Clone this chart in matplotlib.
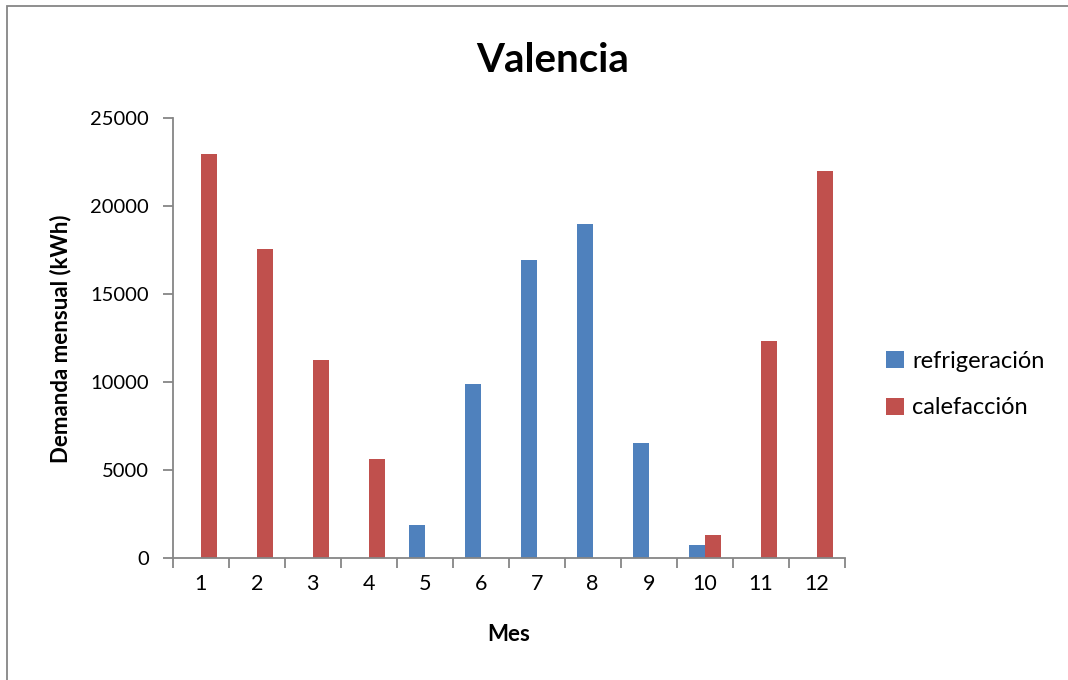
import matplotlib.pyplot as plt
import matplotlib.patches as mpatches
import numpy as np

plt.rcParams['font.family'] = ['Lato', 'DejaVu Sans']

meses = [1, 2, 3, 4, 5, 6, 7, 8, 9, 10, 11, 12]
refrigeracion = [0, 0, 0, 0, 1910, 9920, 16970, 18990, 6550, 760, 0, 0]
calefaccion = [22950, 17560, 11250, 5640, 0, 0, 0, 0, 0, 1340, 12350, 21990]

azul = '#4F81BD'
rojo = '#C0504D'
gris = '#868686'

fig = plt.figure(figsize=(10.68, 6.8), dpi=100)
ax = fig.add_axes([0.1617, 0.179, 0.6292, 0.647])

# chart border (only top and left edges fall inside the image)
fig.patches.append(mpatches.Rectangle((7 / 1068, -0.1), 1.2, 1 - 6 / 680 + 0.1,
                                      transform=fig.transFigure, fill=False,
                                      edgecolor=gris, linewidth=1.3))

x = np.array(meses)
w = 16 / 56
ax.bar(x - w / 2, refrigeracion, width=w, color=azul, label='refrigeración')
ax.bar(x + w / 2, calefaccion, width=w, color=rojo, label='calefacción')

ax.set_xlim(0.5, 12.5)
ax.set_ylim(0, 25000)
ax.set_yticks(np.arange(0, 25001, 5000))

# ticks on category boundaries, labels centred
ax.set_xticks(np.arange(0.5, 12.6, 1))
ax.set_xticklabels([])
ax.set_xticks(x, minor=True)
ax.set_xticklabels([str(m) for m in meses], minor=True)
ax.tick_params(axis='x', which='minor', length=0, pad=11, labelsize=15.5)
ax.tick_params(axis='x', which='major', length=7, width=1.3, color=gris)
ax.tick_params(axis='y', length=7, width=1.3, color=gris, labelsize=14.5, pad=10)

for s in ['top', 'right']:
    ax.spines[s].set_visible(False)
for s in ['left', 'bottom']:
    ax.spines[s].set_color(gris)
    ax.spines[s].set_linewidth(1.3)

fig.text(553 / 1068, 1 - 61 / 680, 'Valencia', fontsize=29, fontweight='bold',
         ha='center', va='center')
ax.set_xlabel('Mes', fontsize=16, fontweight='bold', labelpad=22)
ax.set_ylabel('Demanda mensual (kWh)', fontsize=16, fontweight='bold', labelpad=14)

ax.legend(loc='center left', bbox_to_anchor=(1.062, 0.395), frameon=False,
          fontsize=17, handlelength=0.75, handleheight=0.75, handletextpad=0.35,
          labelspacing=1.1, borderaxespad=0, borderpad=0)

fig.savefig('out.png', dpi=100)
